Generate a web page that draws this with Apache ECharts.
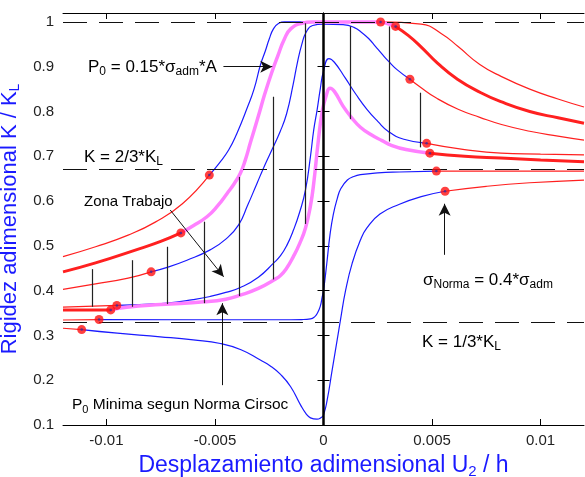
<!DOCTYPE html>
<html>
<head>
<meta charset="utf-8">
<script src="https://cdn.jsdelivr.net/npm/echarts@6/dist/echarts.min.js"></script>
<style>
  html, body { margin: 0; padding: 0; background: #fff; }
  #chart { width: 585px; height: 477px; }
</style>
</head>
<body>
<div id="chart"></div>
<script>
// ticks
const xTicks = [-0.01, -0.005, 0, 0.005, 0.01];
const yTicks = [0.1, 0.2, 0.3, 0.4, 0.5, 0.6, 0.7, 0.8, 0.9, 1.0];
const refLevels = [1, 2 / 3, 1 / 3];

// curves: red left part, blue/pink middle part, red right part
const c1L = [[-0.012,0.476],[-0.0105,0.498],[-0.009,0.524],[-0.00775,0.553],[-0.0065,0.594],[-0.00526,0.658]];
const c1M = [[-0.00526,0.658],[-0.0048,0.685],[-0.00437,0.714],[-0.004,0.75],[-0.0035,0.81],[-0.0032,0.85],[-0.0029,0.905],[-0.00268,0.935],[-0.0025,0.962],[-0.0023,0.985],[-0.00206,0.997],[-0.0018,1.0],[0.00263,1.0]];
const c1R = [[0.00263,1.0],[0.0045,0.995],[0.0054,0.975],[0.0062,0.945],[0.0072,0.905],[0.0082,0.878],[0.0095,0.85],[0.0108,0.828],[0.012,0.81]];

const c2L = [[-0.012,0.442],[-0.0105,0.462],[-0.00846,0.494],[-0.0075,0.51],[-0.00657,0.529]];
const c2M = [[-0.00657,0.529],[-0.006,0.545],[-0.00537,0.565],[-0.0049,0.588],[-0.00444,0.617],[-0.0041,0.64],[-0.00383,0.662],[-0.0036,0.692],[-0.00337,0.73],[-0.003,0.79],[-0.0027,0.84],[-0.0024,0.885],[-0.0021,0.925],[-0.0018,0.962],[-0.0015,0.985],[-0.001,0.997],[-0.0005,1.0],[0.0024,1.0],[0.00332,0.99]];
const c2R = [[0.00332,0.99],[0.0039,0.97],[0.00448,0.945],[0.00525,0.908],[0.00617,0.872],[0.00725,0.842],[0.00817,0.822],[0.0095,0.8],[0.0108,0.786],[0.012,0.774]];

const c3L = [[-0.012,0.403],[-0.0105,0.415],[-0.009,0.428],[-0.00794,0.442]];
const c3M = [[-0.00794,0.442],[-0.0072,0.452],[-0.00629,0.468],[-0.00522,0.491],[-0.0045,0.515],[-0.00391,0.547],[-0.0035,0.59],[-0.00306,0.64],[-0.00275,0.675],[-0.00245,0.707],[-0.002,0.755],[-0.0017,0.795],[-0.0014,0.86],[-0.0012,0.91],[-0.001,0.95],[-0.0008,0.977],[-0.0005,0.992],[0,0.995],[0.0009,0.994],[0.0014,0.988],[0.0018,0.975],[0.0021,0.962],[0.0024,0.945],[0.0027,0.928],[0.003,0.912],[0.0034,0.893],[0.00398,0.872]];
const c3R = [[0.00398,0.872],[0.0045,0.853],[0.0052,0.83],[0.0062,0.805],[0.0072,0.787],[0.0082,0.771],[0.0095,0.756],[0.0108,0.745],[0.012,0.736]];

const c4L = [[-0.012,0.357],[-0.0098,0.357]];
const c4M = [[-0.0098,0.357],[-0.00906,0.363],[-0.0075,0.369],[-0.0055,0.375],[-0.0045,0.381],[-0.00383,0.39],[-0.003,0.405],[-0.00229,0.424],[-0.00198,0.434],[-0.0017,0.45],[-0.0014,0.475],[-0.0011,0.505],[-0.00083,0.54],[-0.0006,0.59],[-0.00045,0.64],[-0.00025,0.73],[-0.00006,0.8],[0.00012,0.835],[0.0003,0.852],[0.0005,0.845],[0.0009,0.812],[0.0013,0.786],[0.0017,0.765],[0.0022,0.748],[0.0027,0.735],[0.0031,0.725],[0.0038,0.715],[0.0049,0.707]];
const c4R = [[0.0049,0.707],[0.0065,0.7],[0.00817,0.696],[0.01,0.692],[0.012,0.688]];

const c5L = [[-0.012,0.363],[-0.00952,0.367]];
const c5M = [[-0.00952,0.367],[-0.0085,0.369],[-0.00721,0.372],[-0.006,0.38],[-0.00522,0.387],[-0.0045,0.396],[-0.00383,0.407],[-0.003,0.43],[-0.00229,0.462],[-0.00198,0.478],[-0.0017,0.5],[-0.00137,0.537],[-0.0011,0.575],[-0.00083,0.625],[-0.0006,0.7],[-0.00045,0.759],[-0.00029,0.805],[-0.00015,0.85],[0,0.89],[0.00025,0.918],[0.0005,0.91],[0.001,0.875],[0.0015,0.838],[0.002,0.805],[0.0025,0.778],[0.003,0.755],[0.0037,0.738],[0.00475,0.729]];
const c5R = [[0.00475,0.729],[0.0065,0.715],[0.00817,0.707],[0.01,0.705],[0.012,0.703]];

const c6L = [[-0.012,0.3345],[-0.01034,0.3355]];
const c6M = [[-0.01034,0.3355],[-0.006,0.335],[-0.002,0.335],[-0.001,0.3355],[-0.0006,0.337],[-0.0004,0.342],[-0.00029,0.349],[-0.00015,0.365],[-0.00006,0.386],[0,0.4],[0.00015,0.46],[0.0003,0.525],[0.00045,0.57],[0.00063,0.605],[0.0008,0.628],[0.0011,0.647],[0.0014,0.655],[0.0017,0.659],[0.0025,0.663],[0.0035,0.665],[0.0052,0.667]];
const c6R = [[0.0052,0.667],[0.012,0.667]];

const c7L = [[-0.012,0.316],[-0.01114,0.313]];
const c7M = [[-0.01114,0.313],[-0.0095,0.305],[-0.00752,0.297],[-0.006,0.29],[-0.00475,0.282],[-0.0038,0.268],[-0.00291,0.245],[-0.00245,0.232],[-0.00198,0.213],[-0.00152,0.186],[-0.00106,0.145],[-0.0008,0.125],[-0.0006,0.116],[-0.0003,0.113],[-0.0001,0.117],[0,0.122],[0.00017,0.156],[0.0004,0.223],[0.00063,0.29],[0.00078,0.334],[0.00102,0.401],[0.00132,0.461],[0.0017,0.513],[0.002,0.54],[0.0026,0.571],[0.0035,0.593],[0.0045,0.61],[0.0056,0.622]];
const c7R = [[0.0056,0.622],[0.0075,0.633],[0.0095,0.641],[0.012,0.647]];

// working zone verticals
const zoneX = [-0.01063, -0.00883, -0.00721, -0.00549, -0.00386, -0.00232, -0.00083, 0.00125, 0.00302, 0.00445];
const zoneTop = [0.448, 0.468, 0.498, 0.554, 0.654, 0.833, 0.997, 0.99, 0.99, 0.842];
const zoneBottom = [0.364, 0.364, 0.37, 0.372, 0.388, 0.425, 0.549, 0.783, 0.733, 0.72];

// annotation arrows (tail -> head)
const arrowFrom = [[-0.00461, 0.9], [-0.00706, 0.58], [-0.00466, 0.189], [0.00558, 0.48]];
const arrowTo = [[-0.00236, 0.9], [-0.0046, 0.431], [-0.00466, 0.372], [0.00558, 0.594]];

const F = '"Liberation Sans", Arial, sans-serif';
const BLUE = '#1a1aff';
const RED = '#ff2020';
const PINK = '#ff80ff';

// thin ones first, thick ones over them
const curves = [
  { left: c7L, mid: c7M, right: c7R, thick: false },
  { left: c6L, mid: c6M, right: c6R, thick: false },
  { left: c5L, mid: c5M, right: c5R, thick: false },
  { left: c3L, mid: c3M, right: c3R, thick: false },
  { left: c1L, mid: c1M, right: c1R, thick: false },
  { left: c4L, mid: c4M, right: c4R, thick: true },
  { left: c2L, mid: c2M, right: c2R, thick: true }
];

const series = [];
const dots = [];
curves.forEach(c => {
  const redW = c.thick ? 3 : 1.2;
  const midW = c.thick ? 3.5 : 1.2;
  [[c.left, RED, redW], [c.mid, c.thick ? PINK : BLUE, midW], [c.right, RED, redW]].forEach(p => {
    series.push({
      type: 'line', data: p[0], showSymbol: false, smooth: 0.5,
      lineStyle: { color: p[1], width: p[2] }, z: 2, silent: true
    });
  });
  dots.push(c.mid[0], c.mid[c.mid.length - 1]);
});

// dashed levels + zero line
series.push({
  type: 'line', data: [], z: 4, silent: true,
  markLine: {
    silent: true, symbol: ['none', 'none'], label: { show: false }, animation: false,
    lineStyle: { color: '#111', width: 1.2, type: [24, 12] },
    data: refLevels.map(v => ({ yAxis: v })).concat([{ xAxis: 0, lineStyle: { color: '#000', width: 2.5, type: 'solid' } }])
  }
});

// zone verticals
series.push({
  type: 'line', data: [], z: 4, silent: true,
  markLine: {
    silent: true, symbol: ['none', 'none'], label: { show: false }, animation: false,
    lineStyle: { color: '#222', width: 1.2, type: 'solid' },
    data: zoneX.map((x, i) => [{ coord: [x, zoneBottom[i]] }, { coord: [x, zoneTop[i]] }])
  }
});

// arrows
series.push({
  type: 'line', data: [], z: 5, silent: true,
  markLine: {
    silent: true, symbol: ['none', 'arrow'], symbolSize: [9, 12], label: { show: false }, animation: false,
    lineStyle: { color: '#111', width: 1, type: 'solid' },
    data: arrowFrom.map((a, i) => [{ coord: a }, { coord: arrowTo[i] }])
  }
});

// red transition points
series.push({
  type: 'scatter', data: dots, symbolSize: 9, z: 6, silent: true,
  itemStyle: { color: '#ff1010' }
});
series.push({
  type: 'scatter', data: dots, symbolSize: 2.5, z: 7, silent: true,
  itemStyle: { color: '#3030a0' }
});

const txt = (x, y, text, size, subSize) => ({
  type: 'text', z: 10,
  style: {
    x: x, y: y, text: text, align: 'left', verticalAlign: 'middle',
    rich: {
      m: { fontSize: size, fontFamily: F, fill: '#000' },
      s: { fontSize: subSize, fontFamily: F, fill: '#000', padding: [Math.round(size * 0.55), 0, 0, 0] }
    }
  }
});

const chart = echarts.init(document.getElementById('chart'));
chart.setOption({
  animation: false,
  backgroundColor: '#fff',
  grid: { left: 63, right: 1, top: 13, bottom: 52, outerBoundsMode: 'none', containLabel: false },
  xAxis: [
    {
      type: 'value', min: -0.012, max: 0.012, position: 'bottom',
      name: '{a|Desplazamiento adimensional U}{b|2}{a| / h}', nameLocation: 'middle', nameGap: 28,
      nameTextStyle: { rich: {
        a: { fontSize: 23, fontFamily: F, color: BLUE },
        b: { fontSize: 15, fontFamily: F, color: BLUE, padding: [11, 0, 0, 0] }
      } },
      axisLine: { lineStyle: { color: '#000', width: 1 } },
      axisTick: { inside: true, length: 6, customValues: xTicks, lineStyle: { color: '#000' } },
      axisLabel: { customValues: xTicks, color: '#222', fontSize: 15, fontFamily: F, margin: 8 },
      splitLine: { show: false }
    },
    {
      type: 'value', min: -0.012, max: 0.012, position: 'top',
      axisLine: { lineStyle: { color: '#000', width: 1 } },
      axisTick: { inside: true, length: 6, customValues: xTicks, lineStyle: { color: '#000' } },
      axisLabel: { show: false },
      splitLine: { show: false }
    }
  ],
  yAxis: [
    {
      type: 'value', min: 0.1, max: 1.02, position: 'left',
      name: '{a|Rigidez adimensional K / K}{b|L}', nameLocation: 'middle', nameGap: 22, nameRotate: 90,
      nameTextStyle: { rich: {
        a: { fontSize: 22, fontFamily: F, color: BLUE },
        b: { fontSize: 14, fontFamily: F, color: BLUE, padding: [11, 0, 0, 0] }
      } },
      axisLine: { lineStyle: { color: '#000', width: 1 } },
      axisTick: { inside: true, length: 6, customValues: yTicks, lineStyle: { color: '#000' } },
      axisLabel: { customValues: yTicks, color: '#222', fontSize: 15, fontFamily: F, margin: 9 },
      splitLine: { show: false }
    },
    {
      type: 'value', min: 0.1, max: 1.02, position: 'right',
      axisLine: { lineStyle: { color: '#000', width: 1 } },
      axisTick: { inside: true, length: 6, customValues: yTicks, lineStyle: { color: '#000' } },
      axisLabel: { show: false },
      splitLine: { show: false }
    }
  ],
  graphic: [
    txt(88, 67, '{m|P}{s|0}{m| = 0.15*σ}{s|adm}{m|*A}', 17, 12),
    txt(84, 157, '{m|K = 2/3*K}{s|L}', 17, 12),
    {
      type: 'text', z: 10,
      style: { x: 84, y: 202, text: 'Zona Trabajo', align: 'left', verticalAlign: 'middle',
        fontSize: 15, fontFamily: F, fill: '#000' }
    },
    txt(72, 405, '{m|P}{s|0}{m| Minima segun Norma Cirsoc}', 15.5, 11),
    txt(423, 280, '{m|σ}{s|Norma}{m| = 0.4*σ}{s|adm}', 17, 12),
    txt(422, 342, '{m|K = 1/3*K}{s|L}', 17, 12)
  ],
  series: series
});
</script>
</body>
</html>
